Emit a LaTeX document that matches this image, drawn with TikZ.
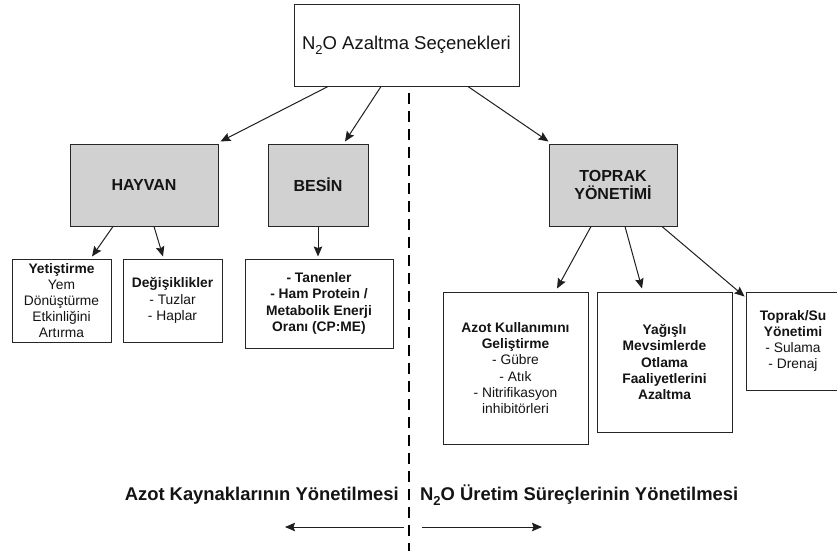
\documentclass[tikz,border=0pt]{standalone}
\usepackage{fontspec}
\setmainfont{Liberation Sans}
\usetikzlibrary{arrows.meta}
\newcommand{\subtwo}[1]{\raisebox{-0.28em}{\fontsize{#1}{#1}\selectfont 2}}
\begin{document}
\begin{tikzpicture}[x=1pt,y=-1pt,
  box/.style={draw=black!85,line width=1pt,rectangle,inner sep=0pt,align=center,text=black!92},
  head/.style={box,fill=black!18,font=\fontsize{16}{18}\selectfont\bfseries},
  small/.style={box,font=\fontsize{13.8}{16.2}\selectfont},
  arr/.style={draw=black!88,line width=1pt,-{Stealth[length=10pt,width=8.5pt,inset=1.5pt]}},
  divider/.style={draw=black,line width=2pt,dash pattern=on 11pt off 7pt},
  lbl/.style={inner sep=0pt,font=\fontsize{18.4}{20}\selectfont\bfseries,text=black!92}]
\useasboundingbox (0,0) rectangle (837,550);
\fill[white] (0,0) rectangle (837,550);
% top
\node[box,minimum width=225pt,minimum height=82pt,font=\fontsize{18.5}{20}\selectfont] (top) at (406.5,45) {N\subtwo{13}O Azaltma Seçenekleri};
% heads
\node[head,minimum width=148pt,minimum height=82pt] (hay) at (144,185) {HAYVAN};
\node[head,minimum width=100pt,minimum height=82pt] (bes) at (318,185) {BESİN};
\node[head,minimum width=128pt,minimum height=82pt] (top2) at (613,185) {TOPRAK\\YÖNETİMİ};
% small boxes
\node[small,minimum width=99pt,minimum height=83pt] (yet) at (61.5,300.5) {\textbf{Yetiştirme}\\Yem\\Dönüştürme\\Etkinliğini\\Artırma};
\node[small,minimum width=99pt,minimum height=83pt] (deg) at (172.5,300.5) {\textbf{Değişiklikler}\\- Tuzlar\\- Haplar};
\node[small,minimum width=148pt,minimum height=89pt,font=\fontsize{13.8}{16.6}\selectfont\bfseries] (tan) at (319,303.5) {- Tanenler\\- Ham Protein /\\Metabolik Enerji\\Oranı (CP:ME)};
\node[small,minimum width=145pt,minimum height=152pt] (azot) at (515.5,368) {\textbf{Azot Kullanımını}\\\textbf{Geliştirme}\\- Gübre\\- Atık\\- Nitrifikasyon\\inhibitörleri};
\node[small,minimum width=135pt,minimum height=140pt,font=\fontsize{13.8}{16.2}\selectfont\bfseries] (yag) at (664.5,362) {Yağışlı\\Mevsimlerde\\Otlama\\Faaliyetlerini\\Azaltma};
\node[small,minimum width=94pt,minimum height=98pt] (tsu) at (793,341) {\textbf{Toprak/Su}\\\textbf{Yönetimi}\\- Sulama\\- Drenaj};
% connectors
\draw[arr] ([xshift=-78.5pt]top.south) -- ([xshift=2pt,yshift=2pt]hay.north east);
\draw[arr] ([xshift=-25.5pt]top.south) -- ([xshift=27pt,yshift=2pt]bes.north);
\draw[arr] ([xshift=61.5pt]top.south) -- ([yshift=2pt]top2.north west);
\draw[arr] ([xshift=-31pt]hay.south) -- ([xshift=30.5pt,yshift=2pt]yet.north);
\draw[arr] ([xshift=10pt]hay.south) -- ([xshift=-9.5pt,yshift=2pt]deg.north);
\draw[arr] (bes.south) -- ([yshift=2pt]bes.south |- tan.north);
\draw[arr] ([xshift=-22pt]top2.south) -- ([xshift=41.5pt,yshift=3pt]azot.north);
\draw[arr] ([xshift=12pt]top2.south) -- ([xshift=-22.5pt,yshift=3pt]yag.north);
\draw[arr] ([xshift=49pt]top2.south) -- ([xshift=-1pt,yshift=-5pt]tsu.north west);
% divider
\coordinate (dtop) at (409,93);
\coordinate (dbot) at (409,552);
\draw[divider] (dtop) -- (dbot);
% bottom labels
\node[lbl,anchor=base east] (lleft) at (399,500.5) {Azot Kaynaklarının Yönetilmesi};
\node[lbl,anchor=base west] (lright) at (420,500.5) {N\subtwo{13}O Üretim Süreçlerinin Yönetilmesi};
\coordinate (la) at (404,527);
\coordinate (lb) at (285,527);
\coordinate (ra) at (422,527);
\coordinate (rb) at (542,527);
\draw[arr] (la) -- (lb);
\draw[arr] (ra) -- (rb);
\end{tikzpicture}
\end{document}
